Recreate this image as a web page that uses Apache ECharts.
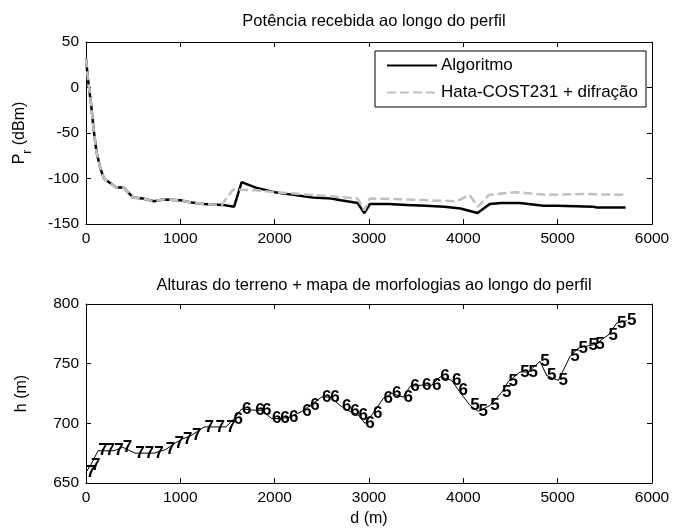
<!DOCTYPE html>
<html>
<head>
<meta charset="utf-8">
<script src="https://cdn.jsdelivr.net/npm/echarts@6/dist/echarts.min.js"></script>
<style>html,body{margin:0;padding:0;background:#fff}#c{width:674px;height:528px}</style>
</head>
<body>
<div id="c"></div>
<script>
// ---- Top chart data: received power along the profile ----
var algDist = [0, 20, 50, 80, 110, 150, 190, 320, 400, 500, 600, 720, 820, 1000, 1100, 1250, 1450, 1570, 1650, 1800, 2000, 2200, 2400, 2600, 2700, 2880, 2950, 3010, 3200, 3400, 3600, 3800, 3970, 4150, 4280, 4400, 4600, 4850, 5000, 5380, 5420, 5720];
var algPr = [32, 10, -15, -45, -70, -88, -100, -110, -110, -121, -122, -125, -123, -124, -126, -128, -129, -131, -104, -110, -115, -118, -121, -122, -124, -127, -138, -128, -128, -129, -130, -131, -133, -138, -128, -127, -127, -130, -130, -131, -132, -132];
var hataDist = [0, 20, 50, 80, 110, 150, 190, 320, 400, 500, 600, 720, 820, 1000, 1100, 1250, 1440, 1560, 1800, 2000, 2400, 2880, 2950, 3010, 3400, 3650, 3930, 4065, 4155, 4270, 4550, 4880, 5250, 5720];
var hataPr = [32, 10, -15, -45, -70, -88, -100, -110, -110, -121, -122, -125, -123, -124, -126, -128, -129, -112, -113, -115, -118, -122, -135, -122, -123, -124, -125, -118, -131, -118, -115, -118, -117, -118];

// ---- Bottom chart data: terrain heights + morphology map ----
var terDist = [0, 50, 128, 205, 297, 388, 520, 620, 720, 844, 935, 1026, 1120, 1254, 1369, 1483,
  1560, 1650, 1792, 1862, 1968, 2056, 2150, 2290, 2375, 2498, 2587, 2710, 2798, 2887, 2958, 3040, 3152, 3241, 3364, 3435, 3559, 3665, 3753, 3877, 3947,
  4071, 4159, 4283, 4407, 4477, 4601, 4689, 4813, 4884, 5007, 5131, 5219, 5325, 5396, 5537, 5626, 5732];
var terH = [659, 665, 677, 677, 677, 680, 675, 675, 675, 678, 683, 687, 690, 697, 697, 697,
  703, 712, 711, 711, 704, 704, 705, 710, 715, 722, 722, 714, 710, 707, 700, 708, 721, 725, 722, 731, 732, 732, 739, 736, 728,
  715, 710, 715, 726, 735, 743, 743, 752, 740, 736, 756, 763, 765, 766, 774, 784, 786];
var terMorph = [7, 7, 7, 7, 7, 7, 7, 7, 7, 7, 7, 7, 7, 7, 7, 7,
  6, 6, 6, 6, 6, 6, 6, 6, 6, 6, 6, 6, 6, 6, 6, 6, 6, 6, 6, 6, 6, 6, 6, 6, 6,
  5, 5, 5, 5, 5, 5, 5, 5, 5, 5, 5, 5, 5, 5, 5, 5, 5];

function zip(a, b) { return a.map(function (v, i) { return [v, b[i]]; }); }

var FONT = 'Liberation Sans, Arial, sans-serif';
var lineBlack = { color: '#000', width: 1 };

function boxAxes(kind, gridIndex, min, max, interval, name, nameGap) {
  var base = {
    type: 'value', gridIndex: gridIndex, min: min, max: max, interval: interval,
    axisLine: { show: true, onZero: false, lineStyle: lineBlack },
    axisTick: { show: true, inside: true, length: 5, lineStyle: lineBlack },
    splitLine: { show: false }
  };
  var a = Object.assign({}, base, {
    position: kind === 'x' ? 'bottom' : 'left',
    axisLabel: { show: true, color: '#000', fontSize: 15.5, fontFamily: FONT, margin: 7,
      formatter: function (v) { return String(v); } },
    name: name || '', nameLocation: 'middle', nameGap: nameGap || 0,
    nameTextStyle: { color: '#000', fontSize: 16, fontFamily: FONT,
      rich: { sub: { fontSize: 12, fontFamily: FONT, color: '#000', verticalAlign: 'bottom', padding: [0, 0, -6, 0] } } }
  });
  var b = Object.assign({}, base, {
    position: kind === 'x' ? 'top' : 'right',
    axisLabel: { show: false }
  });
  return [a, b];
}

var xA = boxAxes('x', 0, 0, 6000, 1000);
var xB = boxAxes('x', 1, 0, 6000, 1000, 'd (m)', 28);
var yA = boxAxes('y', 0, -150, 50, 50, 'P{sub|r} (dBm)', 58);
var yB = boxAxes('y', 1, 650, 800, 50, 'h (m)', 56);

var option = {
  animation: false,
  backgroundColor: '#fff',
  title: [
    { text: 'Potência recebida ao longo do perfil', left: 369, top: 8, textAlign: 'center',
      textStyle: { color: '#000', fontSize: 16.5, fontWeight: 'normal', fontFamily: FONT } },
    { text: 'Alturas do terreno + mapa de morfologias ao longo do perfil', left: 369, top: 272, textAlign: 'center',
      textStyle: { color: '#000', fontSize: 16.5, fontWeight: 'normal', fontFamily: FONT } }
  ],
  grid: [
    { left: 86, width: 566, top: 42, height: 182 },
    { left: 86, width: 566, top: 304, height: 179 }
  ],
  xAxis: [xA[0], xA[1], xB[0], xB[1]],
  yAxis: [yA[0], yA[1], yB[0], yB[1]],
  legend: {
    left: 375, top: 51, orient: 'vertical',
    data: ['Algoritmo', 'Hata-COST231 + difração'],
    borderColor: '#000', borderWidth: 1, backgroundColor: '#fff',
    padding: [6, 8, 6, 11], itemWidth: 50, itemHeight: 14, itemGap: 10,
    itemStyle: { color: 'rgba(0,0,0,0)', borderWidth: 0, opacity: 0 },
    textStyle: { color: '#000', fontSize: 17, fontFamily: FONT, padding: [0, 0, 0, -1] }
  },
  series: [
    { name: 'Algoritmo', type: 'line', xAxisIndex: 0, yAxisIndex: 0, symbol: 'none',
      data: zip(algDist, algPr), lineStyle: { color: '#000', width: 2.5 }, itemStyle: { color: '#000' } },
    { name: 'Hata-COST231 + difração', type: 'line', xAxisIndex: 0, yAxisIndex: 0, symbol: 'none',
      data: zip(hataDist, hataPr), lineStyle: { color: '#c0c0c0', width: 2.5, type: [9, 4] }, itemStyle: { color: '#c0c0c0' } },
    { type: 'line', xAxisIndex: 2, yAxisIndex: 2, symbol: 'none',
      data: zip(terDist, terH), lineStyle: { color: '#000', width: 1 } },
    { type: 'scatter', xAxisIndex: 2, yAxisIndex: 2, symbol: 'circle', symbolSize: 0.5,
      itemStyle: { color: '#000', opacity: 1 },
      data: terDist.map(function (d, i) { return [d, terH[i], terMorph[i]]; }),
      label: { show: true, position: 'right', distance: 0, color: '#000', opacity: 1, fontSize: 17, fontWeight: 'bold', fontFamily: FONT,
        formatter: function (p) { return String(p.value[2]); } },
      labelLayout: { hideOverlap: false } }
  ]
};
var chart = echarts.init(document.getElementById('c'), null, { renderer: 'canvas' });
chart.setOption(option);
</script>
</body>
</html>
